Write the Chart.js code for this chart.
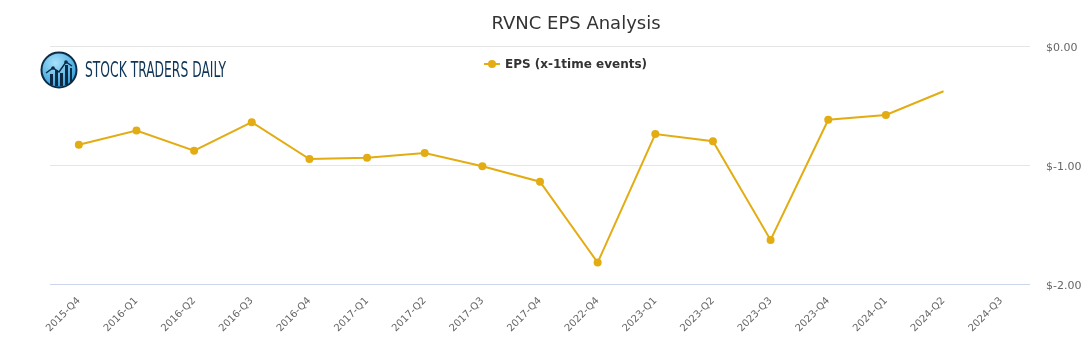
<!DOCTYPE html>
<html>
<head>
<meta charset="utf-8">
<script src="https://cdn.jsdelivr.net/npm/chart.js@4.4.1/dist/chart.umd.min.js"></script>
<style>
html,body{margin:0;padding:0;background:#fff;}
#wrap{position:relative;width:1091px;height:350px;overflow:hidden;}
#c{position:absolute;left:0;top:0;}
#logo{position:absolute;left:40px;top:51px;height:38px;}
#logo svg{position:absolute;left:0;top:0;}
#logoText{position:absolute;left:45px;top:7px;white-space:nowrap;font-family:"Liberation Sans Narrow","DejaVu Sans Condensed","Roboto","DejaVu Sans",sans-serif;font-size:21px;line-height:24px;color:#0f3656;transform-origin:0 0;letter-spacing:0px;}
</style>
</head>
<body>
<div id="wrap">
<canvas id="c" width="1091" height="350"></canvas>
<div id="logo">
<svg width="38" height="38" viewBox="0 0 38 38">
<defs>
<radialGradient id="g" cx="0.4" cy="0.3" r="0.75">
<stop offset="0" stop-color="#a8e2fb"/>
<stop offset="1" stop-color="#2c9bd8"/>
</radialGradient>
</defs>
<circle cx="19" cy="19" r="17.5" fill="url(#g)" stroke="#0d2b45" stroke-width="2"/>
<rect x="10" y="23" width="3" height="11" fill="#0d2b45"/>
<rect x="15" y="19" width="3" height="16" fill="#0d2b45"/>
<rect x="20" y="22" width="3" height="13" fill="#0d2b45"/>
<rect x="25" y="14" width="3" height="20" fill="#0d2b45"/>
<rect x="30" y="17" width="2" height="14" fill="#0d2b45"/>
<polyline points="6,22 13,17 19,21 26,11 32,15" fill="none" stroke="#0d2b45" stroke-width="1.5"/>
<circle cx="13" cy="17" r="1.8" fill="#0d2b45"/>
<circle cx="26" cy="11" r="1.8" fill="#0d2b45"/>
</svg>
<span id="logoText">STOCK TRADERS DAILY</span>
</div>
</div>
<script>
const chartTitle = "RVNC EPS Analysis";
const seriesLabel = "EPS (x-1time events)";
const categories = ["2015-Q4","2016-Q1","2016-Q2","2016-Q3","2016-Q4","2017-Q1","2017-Q2","2017-Q3","2017-Q4","2022-Q4","2023-Q1","2023-Q2","2023-Q3","2023-Q4","2024-Q1","2024-Q2","2024-Q3"];
const epsValues = [-0.83,-0.71,-0.88,-0.64,-0.95,-0.94,-0.90,-1.01,-1.14,-1.82,-0.74,-0.80,-1.63,-0.62,-0.58,-0.38,null];
const pointSizes = [4,4,4,4,4,4,4,4,4,4,4,4,4,4,4,0,0];
const yTicks = [0,-1,-2];

const lineColor = "#e2ac12";

const overlayPlugin = {
  id: "overlayText",
  afterDraw(chart) {
    const ctx = chart.ctx;
    ctx.save();
    ctx.fillStyle = "#333333";
    ctx.font = "18px 'DejaVu Sans'";
    ctx.textAlign = "center";
    ctx.textBaseline = "middle";
    ctx.fillText(chartTitle, 576, 24);
    // legend
    const lx = 484, ly = 64;
    ctx.strokeStyle = lineColor;
    ctx.lineWidth = 2;
    ctx.beginPath(); ctx.moveTo(lx, ly); ctx.lineTo(lx + 16, ly); ctx.stroke();
    ctx.fillStyle = lineColor;
    ctx.beginPath(); ctx.arc(lx + 8, ly, 4, 0, Math.PI * 2); ctx.fill();
    ctx.fillStyle = "#333333";
    ctx.font = "bold 12px 'DejaVu Sans'";
    ctx.textAlign = "left";
    ctx.fillText(seriesLabel, lx + 21, ly + 0.5);
    ctx.restore();
  }
};

new Chart(document.getElementById("c"), {
  type: "line",
  data: {
    labels: categories,
    datasets: [{
      label: seriesLabel,
      data: epsValues,
      borderColor: lineColor,
      backgroundColor: lineColor,
      borderWidth: 2,
      pointRadius: pointSizes,
      pointHoverRadius: pointSizes,
      pointBorderWidth: 0,
      tension: 0,
      spanGaps: false
    }]
  },
  options: {
    responsive: false,
    animation: false,
    layout: { padding: { left: 50, top: 46, right: 0, bottom: 0 } },
    plugins: {
      legend: { display: false },
      title: { display: false },
      tooltip: { enabled: false }
    },
    scales: {
      x: {
        offset: true,
        grid: { display: false, drawTicks: false },
        border: { display: false },
        ticks: {
          autoSkip: false,
          maxRotation: 45,
          minRotation: 45,
          padding: 11,
          color: "#666666",
          font: { family: "'DejaVu Sans'", size: 10 }
        },
        afterFit(scale) { scale.height = 66; }
      },
      y: {
        position: "right",
        min: -2,
        max: 0,
        afterBuildTicks(scale) { scale.ticks = yTicks.map(v => ({ value: v })); },
        grid: {
          drawTicks: false,
          color: (c) => (c.tick && c.tick.value === -2 ? "#ccd6eb" : "#e6e6e6"),
          lineWidth: 1
        },
        border: { display: false },
        ticks: {
          padding: 16,
          labelOffset: 2,
          color: "#666666",
          font: { family: "'DejaVu Sans'", size: 11 },
          callback: (v) => "$" + Number(v).toFixed(2)
        },
        afterFit(scale) { scale.width = 61; }
      }
    }
  },
  plugins: [overlayPlugin]
});

// fit logo text width
const lt = document.getElementById("logoText");
const w = lt.getBoundingClientRect().width;
if (w > 0) lt.style.transform = "scaleX(" + (141 / w) + ")";
</script>
</body>
</html>
